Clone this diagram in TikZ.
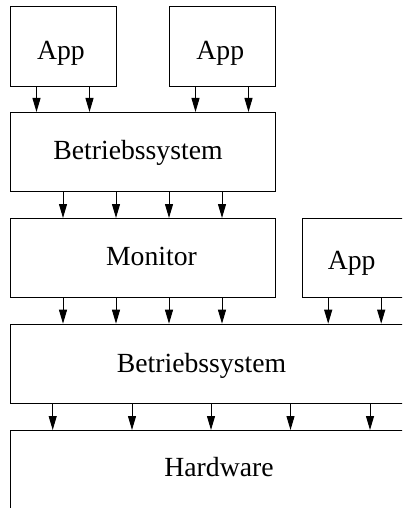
\documentclass[tikz,border=0pt]{standalone}
\usepackage{fontspec}
\newfontfamily\layerfont{LiberationSerif}[Extension=.ttf, UprightFont=*-Regular]
\usetikzlibrary{arrows.meta}

\begin{document}
\begin{tikzpicture}[line width=1pt, >={Triangle[length=14pt,width=8pt]}, x=1pt, y=-1pt,
    box/.style={draw, anchor=north west, inner sep=0pt, minimum height=79pt},
    lbl/.style={anchor=base, inner sep=0pt, font=\layerfont\fontsize{27.7}{30}\selectfont}]
  \useasboundingbox (0,0) rectangle (402,508);
  \clip (0,0) rectangle (402,508);
  % Layers, top to bottom; the right column runs off the page.
  \node[box, minimum width=106pt, minimum height=80pt] (app1) at (10,6) {};
  \node[box, minimum width=106pt, minimum height=80pt] (app2) at (169,6) {};
  \node[box, minimum width=265pt] (bs1) at (10,112) {};
  \node[box, minimum width=265pt] (mon) at (10,218) {};
  \node[box, minimum width=106pt] (app3) at (301.7,218) {};
  \node[box, minimum width=420pt, minimum height=79.6pt] (bs2) at (10,323.7) {};
  \node[box, minimum width=420pt, minimum height=100pt] (hw) at (10,430) {};
  % Texts
  \node[lbl] (tapp1) at (61,60) {App};
  \node[lbl] (tapp2) at (220.3,59.5) {App};
  \node[lbl] (tbs1) at (138,159.5) {Betriebssystem};
  \node[lbl] (tmon) at (151.5,265.7) {Monitor};
  \node[lbl] (tapp3) at (351.7,269) {App};
  \node[lbl] (tbs2) at (201.5,372.3) {Betriebssystem};
  \node[lbl] (thw) at (219,476) {Hardware};
  % Calls going down
  \foreach \x in {36.5,89.5} \draw[->] (app1.south -| \x,0) -- (bs1.north -| \x,0);
  \foreach \x in {195.5,248.5} \draw[->] (app2.south -| \x,0) -- (bs1.north -| \x,0);
  \foreach \x in {63,116,169,222} {
    \draw[->] (bs1.south -| \x,0) -- (mon.north -| \x,0);
    \draw[->] (mon.south -| \x,0) -- (bs2.north -| \x,0);
  }
  \foreach \x in {328.2,381.2} \draw[->] (app3.south -| \x,0) -- (bs2.north -| \x,0);
  \foreach \x in {52.7,132,211,290.5,370} \draw[->] (bs2.south -| \x,0) -- (hw.north -| \x,0);
\end{tikzpicture}
\end{document}
